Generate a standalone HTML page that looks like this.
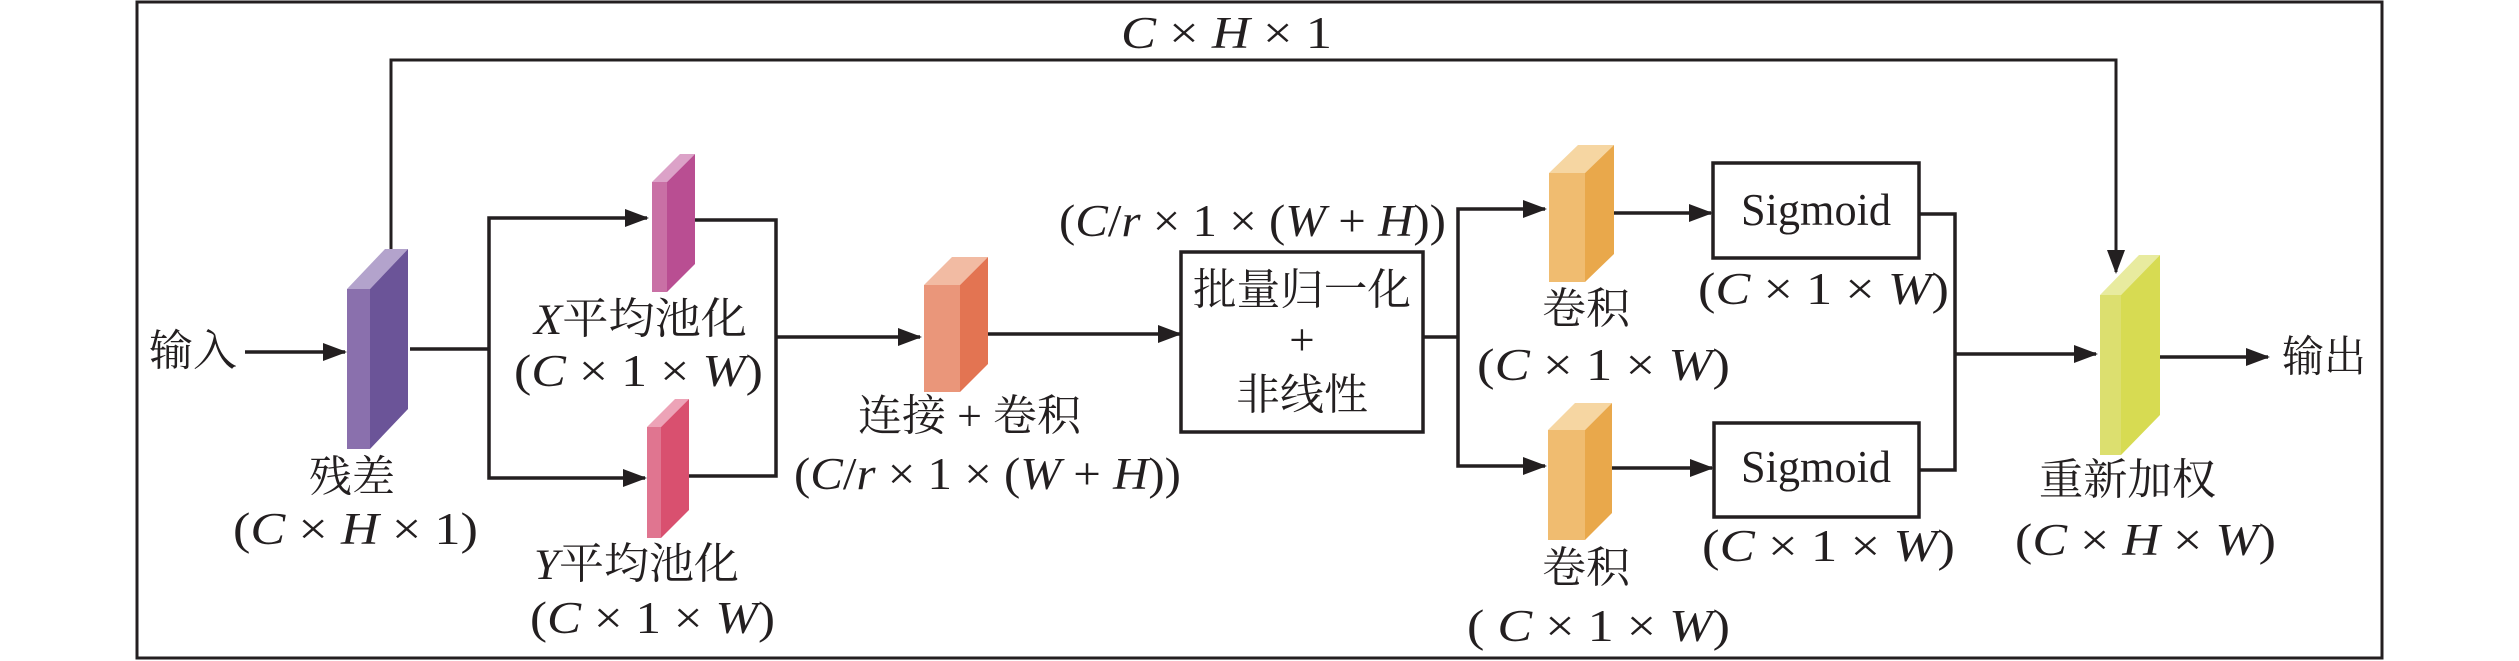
<!DOCTYPE html>
<html><head><meta charset="utf-8"><style>
html,body{margin:0;padding:0;background:#fff;}
svg{display:block;}
text{font-family:"Liberation Serif","Noto Serif CJK SC",serif;fill:#231f20;}
.cn{font-family:"Liberation Serif","Noto Serif CJK SC",serif;font-size:43px;}
.lt{font-size:45px;}
.it{font-style:italic;}
</style></head><body>
<svg width="2519" height="661" viewBox="0 0 2519 661" xmlns="http://www.w3.org/2000/svg">
<defs>
<marker id="ah" markerUnits="userSpaceOnUse" markerWidth="24" markerHeight="20" refX="22" refY="10" orient="auto">
<polygon points="0,1 24,10 0,19" fill="#231f20"/>
</marker>
</defs>
<rect x="137" y="2" width="2245" height="656" fill="none" stroke="#231f20" stroke-width="3"/>
<g fill="none" stroke="#231f20" stroke-width="3.5">
<polyline points="391,249 391,60 2116,60 2116,272" marker-end="url(#ah)" stroke-width="3"/>
<line x1="245" y1="352" x2="345" y2="352" marker-end="url(#ah)"/>
<polyline points="410,349 489,349"/>
<polyline points="489,349 489,218 647,218" marker-end="url(#ah)"/>
<polyline points="489,349 489,478 645,478" marker-end="url(#ah)"/>
<polyline points="695,220 776,220 776,476 689,476"/>
<line x1="776" y1="337" x2="920" y2="337" marker-end="url(#ah)"/>
<line x1="988" y1="334" x2="1180" y2="334" marker-end="url(#ah)"/>
<rect x="1181" y="252" width="242" height="180"/>
<polyline points="1423,337 1458,337"/>
<polyline points="1458,337 1458,209 1545,209" marker-end="url(#ah)"/>
<polyline points="1458,337 1458,466 1545,466" marker-end="url(#ah)"/>
<line x1="1611" y1="213" x2="1711" y2="213" marker-end="url(#ah)"/>
<line x1="1611" y1="468" x2="1712" y2="468" marker-end="url(#ah)"/>
<rect x="1713" y="163" width="206" height="95"/>
<rect x="1714" y="423" width="205" height="94"/>
<polyline points="1919,214 1955,214 1955,470 1919,470"/>
<line x1="1955" y1="354" x2="2096" y2="354" marker-end="url(#ah)"/>
<line x1="2158" y1="357" x2="2268" y2="357" marker-end="url(#ah)"/>
</g>
<g>
<polygon points="347,289 385,249 408,249 370,289" fill="#b3a3cc"/>
<polygon points="370,289 408,249 408,409 370,449" fill="#6b5498"/>
<rect x="347" y="289" width="23" height="160" fill="#8a70ad"/>
<polygon points="652,182 680,154 695,154 667,182" fill="#dca2c8"/>
<polygon points="667,182 695,154 695,264 667,292" fill="#b94e92"/>
<rect x="652" y="182" width="15" height="110" fill="#c970a5"/>
<polygon points="647,427 675,399 689,399 661,427" fill="#eda3b7"/>
<polygon points="661,427 689,399 689,510 661,538" fill="#d9506f"/>
<rect x="647" y="427" width="14" height="111" fill="#e07590"/>
<polygon points="924,285 952,257 988,257 960,285" fill="#f2bba3"/>
<polygon points="960,285 988,257 988,364 960,392" fill="#e37452"/>
<rect x="924" y="285" width="36" height="107" fill="#ea967a"/>
<polygon points="1549,173 1578,145 1614,145 1585,173" fill="#f6d6a2"/>
<polygon points="1585,173 1614,145 1614,254 1585,282" fill="#e9a84b"/>
<rect x="1549" y="173" width="36" height="109" fill="#f0bc70"/>
<polygon points="1548,430 1575,403 1612,403 1585,430" fill="#f6d6a2"/>
<polygon points="1585,430 1612,403 1612,513 1585,540" fill="#e9a84b"/>
<rect x="1548" y="430" width="37" height="110" fill="#f0bc70"/>
<polygon points="2100,295 2139,255 2160,255 2121,295" fill="#e8eb9f"/>
<polygon points="2121,295 2160,255 2160,415 2121,455" fill="#d7db52"/>
<rect x="2100" y="295" width="21" height="160" fill="#dcdf6f"/>
</g>
<g dominant-baseline="central">
<text class="lt" x="1121" y="33" textLength="211" lengthAdjust="spacingAndGlyphs"><tspan class="it">C</tspan> × <tspan class="it">H</tspan> × 1</text>
<text class="cn" x="149" y="352" textLength="88" lengthAdjust="spacingAndGlyphs">输入</text>
<text class="cn" x="2282" y="358" textLength="84" lengthAdjust="spacingAndGlyphs">输出</text>
<text class="cn" x="534" y="320" textLength="213" lengthAdjust="spacingAndGlyphs"><tspan class="it">X</tspan>平均池化</text>
<text class="lt" x="514" y="371" textLength="249" lengthAdjust="spacingAndGlyphs">(<tspan class="it">C</tspan> × 1 × <tspan class="it">W</tspan>)</text>
<text class="cn" x="534" y="565" textLength="205" lengthAdjust="spacingAndGlyphs"><tspan class="it">Y</tspan>平均池化</text>
<text class="lt" x="530" y="618" textLength="245" lengthAdjust="spacingAndGlyphs">(<tspan class="it">C</tspan> × 1 × <tspan class="it">W</tspan>)</text>
<text class="cn" x="309" y="478" textLength="86" lengthAdjust="spacingAndGlyphs">残差</text>
<text class="lt" x="233" y="529" textLength="245" lengthAdjust="spacingAndGlyphs">(<tspan class="it">C</tspan> × <tspan class="it">H</tspan> × 1)</text>
<text class="cn" x="858" y="417" textLength="223" lengthAdjust="spacingAndGlyphs">连接 + 卷积</text>
<text class="lt" x="794" y="474" textLength="387" lengthAdjust="spacingAndGlyphs">(<tspan class="it">C</tspan>/<tspan class="it">r</tspan> × 1 × (<tspan class="it">W</tspan> + <tspan class="it">H</tspan>))</text>
<text class="lt" x="1059" y="221" textLength="387" lengthAdjust="spacingAndGlyphs">(<tspan class="it">C</tspan>/<tspan class="it">r</tspan> × 1 × (<tspan class="it">W</tspan> + <tspan class="it">H</tspan>))</text>
<text class="cn" x="1302" y="291" text-anchor="middle" textLength="218" lengthAdjust="spacingAndGlyphs">批量归一化</text>
<text class="lt" x="1302" y="340" text-anchor="middle">+</text>
<text class="cn" x="1302" y="396" text-anchor="middle" textLength="132" lengthAdjust="spacingAndGlyphs">非线性</text>
<text class="cn" x="1542" y="310" textLength="88" lengthAdjust="spacingAndGlyphs">卷积</text>
<text class="lt" x="1477" y="365" textLength="253" lengthAdjust="spacingAndGlyphs">(<tspan class="it">C</tspan> × 1 × <tspan class="it">W</tspan>)</text>
<text class="cn" x="1542" y="569" textLength="88" lengthAdjust="spacingAndGlyphs">卷积</text>
<text class="lt" x="1467" y="626" textLength="263" lengthAdjust="spacingAndGlyphs">( <tspan class="it">C</tspan> × 1 × <tspan class="it">W</tspan>)</text>
<text class="lt" x="1816" y="210" text-anchor="middle" font-size="50" textLength="150" lengthAdjust="spacingAndGlyphs">Sigmoid</text>
<text class="lt" x="1816" y="467" text-anchor="middle" font-size="50" textLength="150" lengthAdjust="spacingAndGlyphs">Sigmoid</text>
<text class="lt" x="1698" y="289" textLength="251" lengthAdjust="spacingAndGlyphs">(<tspan class="it">C</tspan> × 1 × <tspan class="it">W</tspan>)</text>
<text class="lt" x="1702" y="546" textLength="253" lengthAdjust="spacingAndGlyphs">(<tspan class="it">C</tspan> × 1 × <tspan class="it">W</tspan>)</text>
<text class="cn" x="2039" y="481" textLength="177" lengthAdjust="spacingAndGlyphs">重新加权</text>
<text class="lt" x="2015" y="540" textLength="261" lengthAdjust="spacingAndGlyphs">(<tspan class="it">C</tspan> × <tspan class="it">H</tspan> × <tspan class="it">W</tspan>)</text>
</g>
</svg>
</body></html>
